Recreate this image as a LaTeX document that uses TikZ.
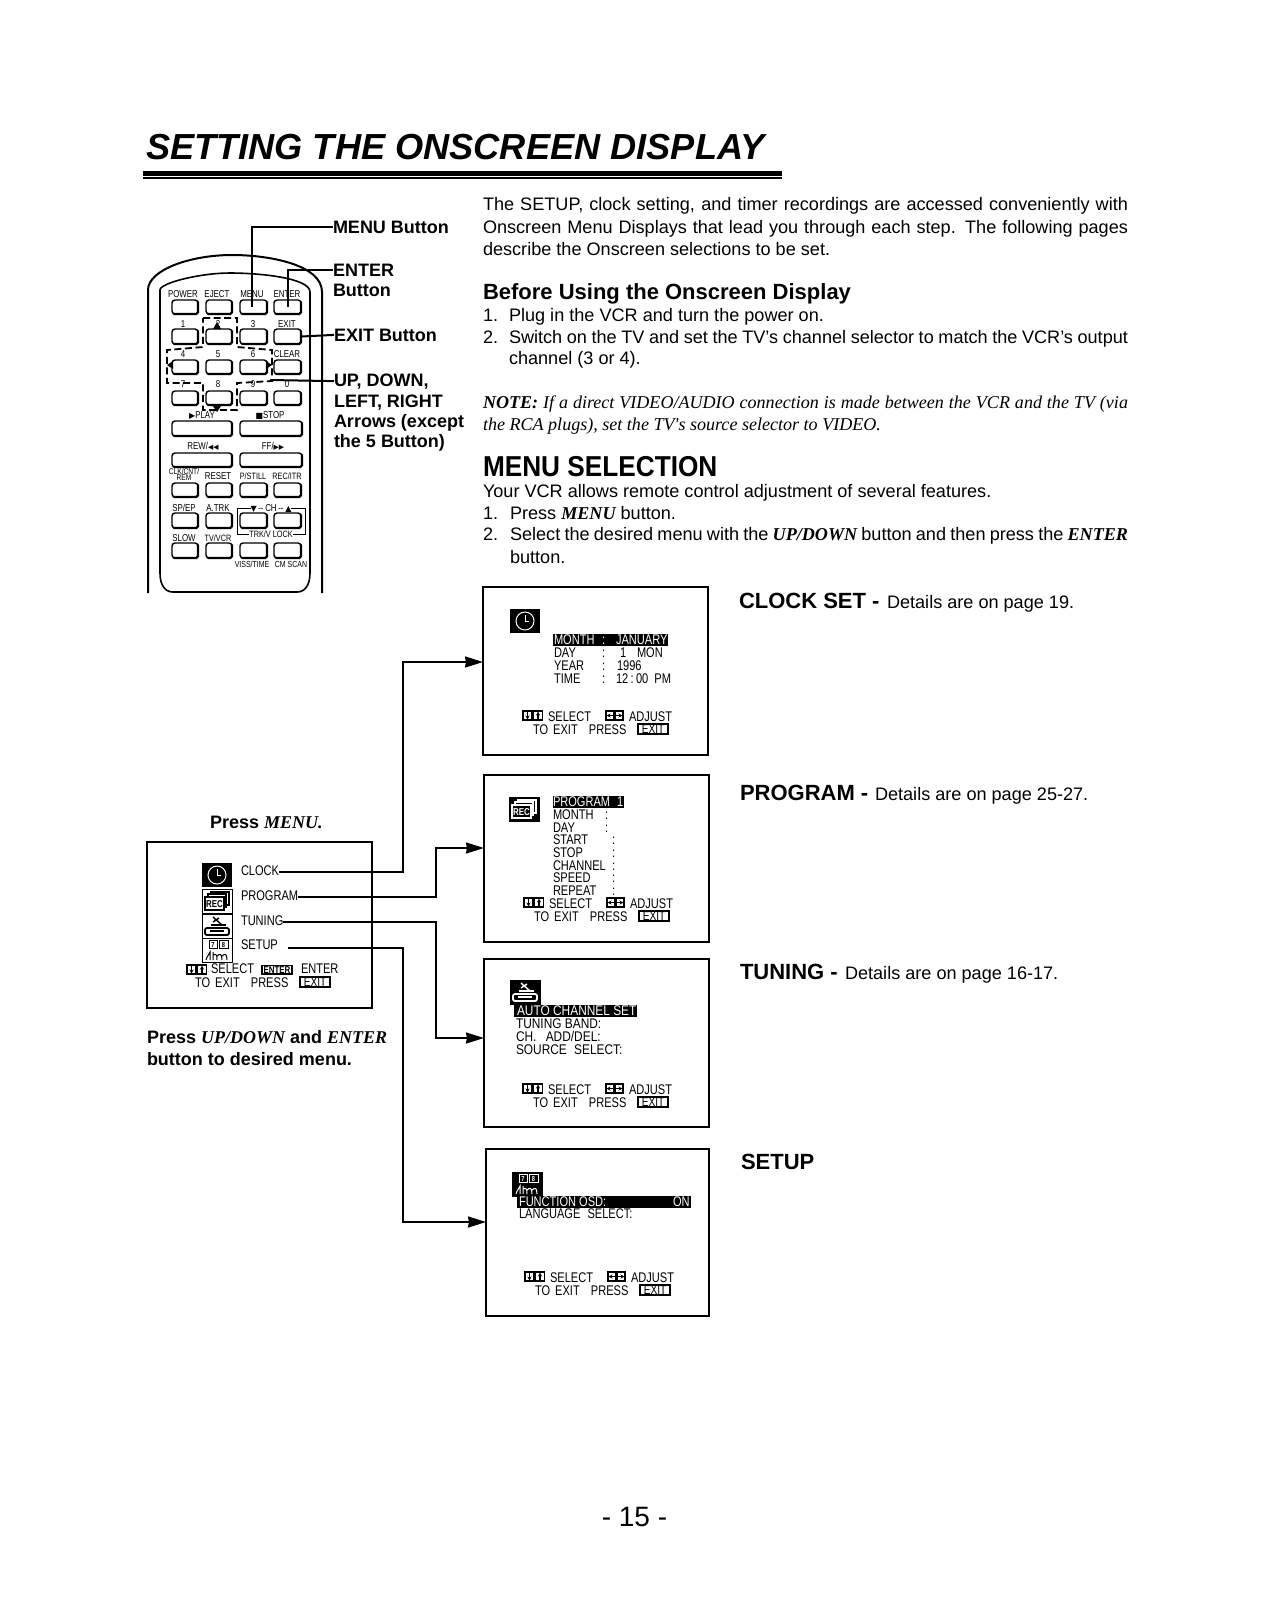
\documentclass[tikz,border=0pt]{standalone}
\usepackage{fontspec}
\usetikzlibrary{arrows.meta,calc}
\setmainfont{Liberation Sans}
\newfontfamily\timesf{Liberation Serif}
\newfontfamily\osd[FakeStretch=0.79]{Liberation Sans}
\newfontfamily\osdw[FakeStretch=0.85]{Liberation Sans}
\newfontfamily\hdn[FakeStretch=0.91]{Liberation Sans}
\newfontfamily\djf{DejaVu Sans}
\newcounter{tn}
\newcommand\sz[1]{\fontsize{#1pt}{#1pt}\selectfont}
\newcommand\mi[1]{{\timesf\bfseries\itshape #1}}
\newcommand\tx[4][]{\stepcounter{tn}\node[txt,#1] (t\arabic{tn}) at (#2,#3) {#4};}
\newcommand\jl[1]{\hbox to 322.5pt{#1}}
\newcommand\btn[5]{\node[btnst,minimum width={(#4-#2)*0.5pt},minimum height={(#5-#3)*0.5pt}] (#1) at ({(#2+#4)/2},{(#3+#5)/2}) {};
  \draw[line width=1.1pt,line cap=round] ($(#1.south west)+(1pt,0)$) -- ($(#1.south east)+(-.8pt,0)$) -- ($(#1.south east)+(0,.8pt)$) -- ($(#1.north east)+(0,-1pt)$);}
% small nav icons: x1 top-y
\newcommand\udicon[2]{\begin{scope}[shift={(#1,#2)}]
  \draw[line width=.55pt] (0,0) rectangle (9,9) (10.5,0) rectangle (19.5,9);
  \draw[line width=.6pt,-{Stealth[length=2pt,width=2pt]}] (4.5,1) -- (4.5,8.5);
  \draw[line width=.6pt,-{Stealth[length=2pt,width=2pt]}] (15,8) -- (15,.5);
\end{scope}}
\newcommand\lricon[2]{\begin{scope}[shift={(#1,#2)}]
  \draw[line width=.55pt] (0,0) rectangle (8,9) (9,0) rectangle (17,9);
  \draw[line width=.6pt,-{Stealth[length=2pt,width=2pt]}] (7,4.5) -- (.5,4.5);
  \draw[line width=.6pt,-{Stealth[length=2pt,width=2pt]}] (10,4.5) -- (16.5,4.5);
\end{scope}}
\newcommand\exitb[3]{\draw[line width=.7pt] (#1,#2) rectangle (#1+30,#2+10);
  \tx[osdt,anchor=base]{#1+15}{#2+9.5}{\sz{6.4}EXIT}}
\newcommand\foot[3]{% dx, y1, y2
  \udicon{523+#1}{#2-10}
  \tx[osdt]{548+#1}{#2}{SELECT}
  \lricon{606+#1}{#2-10}
  \tx[osdt]{629+#1}{#2}{ADJUST}
  \tx[osdt]{533+#1}{#3}{TO\hspace{1pt} EXIT\hspace{4pt} PRESS}
  \exitb{638+#1}{#3-10}{}}
\newcommand\clockicon[2]{\begin{scope}[shift={(#1,#2)}]
  \fill[black] (0,0) rectangle (30,24);
  \draw[white,line width=.5pt] (15,12) circle (9);
  \draw[white,line width=.5pt] (15,6) -- (15,12) -- (19,12);
\end{scope}}
\newcommand\recicon[4]{\begin{scope}[shift={(#1,#2)}]
  \draw[fill=#4,draw=black,line width=.5pt] (0,0) rectangle (30,24);
  \draw[#3,line width=.6pt] (9,6) -- (9,3) -- (27,3) -- (27,16) -- (24,16);
  \draw[#3,line width=.6pt] (6,8) -- (6,5) -- (24,5) -- (24,18) -- (22,18);
  \draw[#3,fill=#4,line width=.6pt] (3,8) rectangle (22,21);
  \tx[anchor=base,font=\osd\bfseries\sz{5},text=#3]{12.5}{18}{REC}
\end{scope}}
\newcommand\tuneicon[4]{\begin{scope}[shift={(#1,#2)}]
  \draw[fill=#4,draw=black,line width=.5pt] (0,0) rectangle (30,24);
  \draw[#3,line width=.7pt] (11,3) -- (20,11) (11,8) -- (17,4);
  \draw[#3,line width=.9pt,rounded corners=1pt] (3,14) rectangle (27,21);
  \draw[#3,line width=.7pt] (8,17) -- (22,17) (9,11) -- (24,11);
\end{scope}}
\newcommand\setupicon[4]{\begin{scope}[shift={(#1,#2)}]
  \draw[fill=#4,draw=black,line width=.5pt] (0,0) rectangle (30,24);
  \draw[#3,line width=.4pt] (7,2) rectangle (15,10) (17,2) rectangle (26,10);
  \tx[anchor=base,font=\osd\bfseries\sz{3.6},text=#3]{11}{9}{7}
  \tx[anchor=base,font=\osd\bfseries\sz{3.6},text=#3]{21.5}{9}{8}
  \draw[#3,line width=.5pt] (4,22) .. controls (5,18) and (7,17) .. (8,14) -- (8,22);
  \draw[#3,line width=.5pt] (11,22) -- (11,14) (11,17) .. controls (15,15) and (15,18) .. (15,22)
     (15,18) .. controls (18,15) and (20,16) .. (20,22) (20,18) .. controls (23,15) and (25,16) .. (25,22);
\end{scope}}
\tikzset{
  txt/.style={anchor=base west,inner sep=0pt,outer sep=0pt,text=black},
  body/.style={font=\sz{9.05}},
  bodyb/.style={font=\bfseries\sz{9}},
  note/.style={font=\timesf\itshape\sz{9.03}},
  osdt/.style={font=\osd\sz{7}},
  osdv/.style={font=\osdw\sz{7}},
  rmt/.style={font=\osd\sz{5},anchor=base},
  rmts/.style={font=\osd\sz{4.6},anchor=base},
  rsec/.style={font=\bfseries\sz{11}},
  dtl/.style={font=\sz{9.05}},
  btnst/.style={draw,rounded corners=1.5pt,line width=.7pt,inner sep=0pt,outer sep=0pt},
  frame/.style={draw,line width=1pt,inner sep=0pt,outer sep=0pt},
  lead/.style={draw,line width=1pt},
  conn/.style={draw,line width=1pt,-{Stealth[length=9pt,width=5.5pt,inset=.5pt]}},
  hl/.style={fill=black,draw=none},
}
\begin{document}
\begin{tikzpicture}[x=0.5pt,y=-0.5pt]
\useasboundingbox (0,0) rectangle (1266,1608);
\fill[white] (0,0) rectangle (1266,1608);
% title
\tx[font=\bfseries\itshape\sz{18.1}]{146}{159.5}{SETTING THE ONSCREEN DISPLAY}
\fill (143,171) rectangle (782,175.5);
\fill (143,177) rectangle (782,178.5);
% intro
\tx[body]{483}{210}{\jl{The SETUP, clock setting, and timer recordings are accessed conveniently with}}
\tx[body]{483}{233}{\jl{Onscreen Menu Displays that lead you through each step. The following pages}}
\tx[body]{483}{255}{describe the Onscreen selections to be set.}
\tx[font=\bfseries\sz{11}]{483}{299}{Before Using the Onscreen Display}
\tx[body]{483}{321}{1.}
\tx[body]{509}{321}{Plug in the VCR and turn the power on.}
\tx[body]{483}{343}{2.}
\tx[body]{509}{343}{\hbox to 309.5pt{Switch on the TV and set the TV's channel selector to match the VCR's output}}
\tx[body]{509}{364.5}{channel (3 or 4).}
\tx[note]{483}{408}{\jl{\bfseries NOTE: \mdseries If a direct VIDEO/AUDIO connection is made between the VCR and the TV (via}}
\tx[note]{483}{430.5}{the RCA plugs), set the TV's source selector to VIDEO.}
\tx[font=\hdn\bfseries\sz{14.4}]{483}{476}{MENU SELECTION}
\tx[body]{483}{497}{Your VCR allows remote control adjustment of several features.}
\tx[body]{483}{519}{1.}
\tx[body]{510}{519}{Press \mi{MENU} button.}
\tx[body]{483}{540}{2.}
\tx[body]{510}{540}{\hbox to 309pt{Select the desired menu with the \mi{UP/DOWN} button and then press the \mi{ENTER}}}
\tx[body]{510}{563}{button.}
% remote body
\draw[line width=1pt] (148,593) -- (148,290) .. controls (148,270) and (190,255) .. (232,255) .. controls (270,255) and (322,265) .. (322,292) -- (322,593);
\draw[line width=.8pt] (160,573) -- (160,290) .. controls (160,283) and (200,273) .. (230,273) .. controls (260,273) and (310,278) .. (310,292) -- (310,573) .. controls (310,585) and (305,592) .. (297,592) -- (173,592) .. controls (165,592) and (160,585) .. (160,573);
% buttons
\btn{b11}{172}{300}{198}{314}\btn{b12}{206}{300}{232}{314}\btn{bMenu}{240}{300}{267}{314}\btn{bEnter}{274}{300}{301}{314}
\btn{b21}{172}{329}{198}{344}\btn{b22}{206}{329}{232}{344}\btn{b23}{240}{329}{267}{344}\btn{bExit}{274}{329}{301}{344}
\btn{b31}{172}{360}{198}{374}\btn{b32}{206}{360}{232}{374}\btn{b33}{240}{360}{267}{374}\btn{b34}{274}{360}{301}{374}
\btn{b41}{172}{391}{198}{405}\btn{b42}{206}{391}{232}{405}\btn{b43}{240}{391}{267}{405}\btn{b44}{274}{391}{301}{405}
\btn{bPlay}{172}{421}{232}{436}\btn{bStop}{240}{421}{302}{436}
\btn{bRew}{172}{453}{232}{467}\btn{bFf}{240}{453}{302}{467}
\btn{b71}{172}{483}{198}{497}\btn{b72}{206}{483}{232}{497}\btn{b73}{240}{483}{267}{497}\btn{b74}{274}{483}{301}{497}
\btn{b81}{172}{513}{198}{528}\btn{b82}{206}{513}{232}{528}\btn{b83}{240}{513}{267}{528}\btn{b84}{274}{513}{301}{528}
\btn{b91}{172}{543}{198}{558}\btn{b92}{206}{543}{232}{558}\btn{b93}{240}{543}{267}{558}\btn{b94}{274}{543}{301}{558}
% remote labels
\tx[rmt]{183}{297}{POWER}\tx[rmt]{217}{297}{EJECT}\tx[rmt]{252}{297}{MENU}\tx[rmt]{287}{297}{ENTER}
\tx[rmt]{183}{327}{1}\tx[rmt]{218}{327}{2}\tx[rmt]{253}{327}{3}\tx[rmt]{287}{327}{EXIT}
\tx[rmt]{183}{357}{4}\tx[rmt]{218}{357}{5}\tx[rmt]{253}{357}{6}\tx[rmt]{287}{357}{CLEAR}
\tx[rmt]{183}{387}{7}\tx[rmt]{218}{387}{8}\tx[rmt]{253}{387}{9}\tx[rmt]{287}{387}{0}
\tx[rmt]{202}{418}{{\djf\sz{4}▶}PLAY}\tx[rmt]{270}{418}{{\djf\sz{4}■}STOP}
\tx[rmt]{203}{449}{REW/{\djf\sz{3.4}◀◀}}\tx[rmt]{273}{449}{FF/{\djf\sz{3.4}▶▶}}
\tx[rmt,font=\osd\sz{4.2}]{184}{474}{CLK/CNT/}\tx[rmt,font=\osd\sz{4.2}]{184}{480}{REM}
\tx[rmt]{218}{479}{RESET}\tx[rmts]{253}{479}{P/STILL}\tx[rmts]{287}{479}{REC/ITR}
\tx[rmt]{184}{511}{SP/EP}\tx[rmt]{218}{511}{A.TRK}
\tx[rmt]{184}{541}{SLOW}\tx[rmts]{218}{541}{TV/VCR}
\tx[rmts,font=\osd\sz{4.4}]{252}{567}{VISS/TIME}\tx[rmts,font=\osd\sz{4.4}]{291}{567}{CM SCAN}
% CH bracket
\draw[line width=.5pt] (237,534) -- (237,508) -- (305,508) -- (305,534) -- cycle;
\tx[rmt,fill=white]{271}{511}{{\djf\sz{4}▼}\,--\,CH\,--\,{\djf\sz{4}▲}}
\tx[rmts,fill=white]{271}{537.5}{TRK/V LOCK}
% arrow cross
\draw[line width=.9pt,dash pattern=on 3.5pt off 1.8pt] (203,318) -- (237,318) -- (237,347) -- (272,350) -- (272,381) -- (237,383) -- (237,410) -- (203,410) -- (203,383) -- (167,383) -- (167,350) -- (203,347) -- cycle;
\fill (217,322) -- (221,329) -- (213,329) -- cycle;
\fill (217,412) -- (221,406) -- (213,406) -- cycle;
\fill (167,365) -- (173,361) -- (173,369) -- cycle;
\fill (272,365) -- (266,361) -- (266,369) -- cycle;
% remote callouts
\tx[bodyb,alias=lMenu]{333}{233}{MENU Button}
\tx[bodyb,alias=lEnter]{333}{276}{ENTER}
\tx[bodyb]{333}{296}{Button}
\tx[bodyb,alias=lExit]{334}{341}{EXIT Button}
\tx[bodyb,alias=lUp]{334}{386}{UP, DOWN,}
\tx[bodyb]{334}{407}{LEFT, RIGHT}
\tx[bodyb]{334}{427}{Arrows (except}
\tx[bodyb]{334}{447}{the 5 Button)}
\draw[lead] (lMenu.west) -| ([xshift=-.75pt]bMenu.center);
\draw[lead] (lEnter.west) -| (bEnter.center);
\draw[lead] (lExit.west) -- (bExit.center -| bExit.east);
\coordinate (upEnd) at (270,380);
\draw[lead] (lUp.west) -- (upEnd);
% menu box
\tx[bodyb]{210}{828}{Press \mi{MENU.}}
\node[frame,minimum width=112.5pt,minimum height=83pt] (menuBox) at (259.5,925) {};
\clockicon{202}{863}
\recicon{202}{889}{black}{white}
\tuneicon{202}{914}{black}{white}
\setupicon{202}{938}{black}{white}
\tx[osdt,alias=mClock]{241}{875}{CLOCK}
\tx[osdt,alias=mProg]{241}{900}{PROGRAM}
\tx[osdt,alias=mTune]{241}{925}{TUNING}
\tx[osdt,alias=mSetup]{241}{949}{SETUP}
\udicon{187}{965}
\tx[osdt]{211}{973}{SELECT}
\draw[line width=.9pt] (262,965.5) rectangle (292,974);
\tx[anchor=base,font=\osd\bfseries\sz{5}]{277}{973}{ENTER}
\tx[osdt]{301}{973}{ENTER}
\tx[osdt]{195}{987}{TO\hspace{1pt} EXIT\hspace{4pt} PRESS}
\exitb{300}{977}{}
\tx[bodyb]{147}{1043}{Press \mi{UP/DOWN} and \mi{ENTER}}
\tx[bodyb]{147}{1065}{button to desired menu.}
% screens
\node[frame,minimum width=112.5pt,minimum height=84pt] (s1) at (595.5,671) {};
\node[frame,minimum width=112.5pt,minimum height=83.5pt] (s2) at (596.5,858.5) {};
\node[frame,minimum width=112.5pt,minimum height=84pt] (s3) at (596.5,1043) {};
\node[frame,minimum width=111.5pt,minimum height=83.5pt] (s4) at (597.5,1232.5) {};
% S1
\clockicon{510}{609}
\fill[hl] (553,634) rectangle (668,646);
\tx[osdt,text=white]{554}{644}{MONTH}\tx[osdt,text=white]{602}{644}{:}\tx[osdt,text=white]{616}{644}{JANUARY}
\tx[osdt]{554}{657}{DAY}\tx[osdt]{602}{657}{:}\tx[osdt]{620}{657}{1}\tx[osdt]{637}{657}{MON}
\tx[osdt]{554}{670}{YEAR}\tx[osdt]{602}{670}{:}\tx[osdt]{617}{670}{1996}
\tx[osdt]{554}{683}{TIME}\tx[osdt]{602}{683}{:}\tx[osdt]{616}{683}{12\,:\,00\hspace{1.5pt} PM}
\foot{0}{721}{734}
% S2
\recicon{509}{797}{white}{black}
\fill[hl] (553,796) rectangle (624,808);
\tx[osdt,text=white]{553}{806}{PROGRAM\hspace{2pt} 1}
\tx[osdt]{553}{819}{MONTH}\tx[osdt]{605}{819}{:}
\tx[osdt]{553}{832}{DAY}\tx[osdt]{605}{832}{:}
\tx[osdt]{553}{844}{START}\tx[osdt]{612}{844}{:}
\tx[osdt]{553}{857}{STOP}\tx[osdt]{612}{857}{:}
\tx[osdt]{553}{870}{CHANNEL}\tx[osdt]{612}{870}{:}
\tx[osdt]{553}{882}{SPEED}\tx[osdt]{612}{882}{:}
\tx[osdt]{553}{895}{REPEAT}\tx[osdt]{612}{895}{:}
\foot{1}{908}{921}
% S3
\tuneicon{510}{980}{white}{black}
\fill[hl] (514,1005) rectangle (637,1017);
\tx[osdv,text=white]{517}{1015}{AUTO CHANNEL SET}
\tx[osdv]{516}{1028}{TUNING BAND:}
\tx[osdv]{516}{1041}{CH.\hspace{3pt} ADD/DEL:}
\tx[osdv]{516}{1054}{SOURCE\hspace{2pt} SELECT:}
\foot{0}{1094}{1107}
% S4
\setupicon{512}{1172}{white}{black}
\fill[hl] (517,1196) rectangle (691,1208);
\tx[osdt,text=white]{519}{1206}{FUNCTION OSD:}\tx[osdt,text=white]{673}{1206}{ON}
\tx[osdt]{519}{1218}{LANGUAGE\hspace{2pt} SELECT:}
\foot{2}{1282}{1295}
% connectors
\coordinate (v1) at (403,662); \coordinate (in1) at (s1.west |- v1);
\coordinate (v2) at (436,848); \coordinate (in2) at (s2.west |- v2);
\coordinate (v3) at (436,1038); \coordinate (in3) at (s3.west |- v3);
\coordinate (v4) at (403,1222); \coordinate (in4) at (s4.west |- v4);
\draw[conn] ([yshift=1.5pt]mClock.base east) -| (v1) -- (in1);
\draw[conn] ([yshift=1.5pt]mProg.base east) -| (v2) -- (in2);
\draw[conn] ([yshift=1.5pt]mTune.base east) -| (v3) -- (in3);
\draw[conn] ([shift={(5pt,.5pt)}]mSetup.base east) -| (v4) -- (in4);
% right labels
\tx[rsec]{739}{608}{CLOCK SET\hspace{3pt}-}\tx[dtl]{887}{608}{Details are on page 19.}
\tx[rsec]{740}{800}{PROGRAM\hspace{3pt}-}\tx[dtl]{875}{800}{Details are on page 25-27.}
\tx[rsec]{740}{979}{TUNING\hspace{3pt}-}\tx[dtl]{845}{979}{Details are on page 16-17.}
\tx[rsec]{741}{1169}{SETUP}
\tx[anchor=base,font=\sz{14}]{634.5}{1526}{- 15 -}
\end{tikzpicture}
\end{document}
